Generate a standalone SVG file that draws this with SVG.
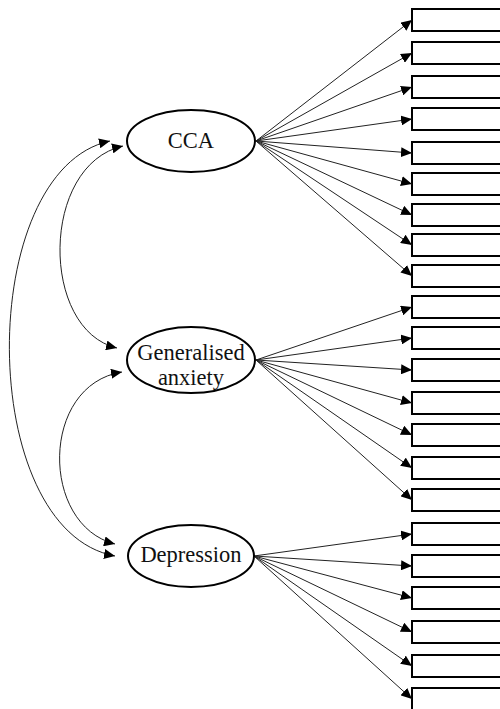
<svg xmlns="http://www.w3.org/2000/svg" width="500" height="709" viewBox="0 0 500 709">
<style>
.box{fill:#fff;stroke:#000;stroke-width:2}
.lat{fill:#fff;stroke:#000;stroke-width:2}
.lbl{font-family:"Liberation Serif","Times New Roman",serif;font-size:22.5px;fill:#111;text-anchor:middle}
.ar{fill:none;stroke:#222;stroke-width:1;marker-end:url(#ah)}
.cv{fill:none;stroke:#222;stroke-width:1;marker-start:url(#ah);marker-end:url(#ah)}
</style>
<defs>
<marker id="ah" markerUnits="userSpaceOnUse" markerWidth="12" markerHeight="10" refX="11" refY="5" orient="auto-start-reverse" viewBox="0 0 12 10">
<path d="M0,0 L11,5 L0,10 Z" fill="#000"/>
</marker>
</defs>
<g id="indicators">
<rect id="i1" class="box" x="412" y="9" width="100" height="22"/>
<rect id="i2" class="box" x="412" y="42" width="100" height="22"/>
<rect id="i3" class="box" x="412" y="76" width="100" height="22"/>
<rect id="i4" class="box" x="412" y="108" width="100" height="22"/>
<rect id="i5" class="box" x="412" y="142" width="100" height="22"/>
<rect id="i6" class="box" x="412" y="173" width="100" height="22"/>
<rect id="i7" class="box" x="412" y="204" width="100" height="22"/>
<rect id="i8" class="box" x="412" y="234" width="100" height="22"/>
<rect id="i9" class="box" x="412" y="265" width="100" height="22"/>
<rect id="i10" class="box" x="412" y="296" width="100" height="22"/>
<rect id="i11" class="box" x="412" y="327" width="100" height="22"/>
<rect id="i12" class="box" x="412" y="359" width="100" height="22"/>
<rect id="i13" class="box" x="412" y="392" width="100" height="22"/>
<rect id="i14" class="box" x="412" y="424" width="100" height="22"/>
<rect id="i15" class="box" x="412" y="457" width="100" height="22"/>
<rect id="i16" class="box" x="412" y="489" width="100" height="22"/>
<rect id="i17" class="box" x="412" y="523" width="100" height="22"/>
<rect id="i18" class="box" x="412" y="555" width="100" height="22"/>
<rect id="i19" class="box" x="412" y="587" width="100" height="22"/>
<rect id="i20" class="box" x="412" y="621" width="100" height="22"/>
<rect id="i21" class="box" x="412" y="655" width="100" height="22"/>
<rect id="i22" class="box" x="412" y="688" width="100" height="22"/>
</g>
<g id="connectors">
<path class="ar" d="M256,141 L412,20"/>
<path class="ar" d="M256,141 L412,53"/>
<path class="ar" d="M256,141 L412,87"/>
<path class="ar" d="M256,141 L412,119"/>
<path class="ar" d="M256,141 L412,153"/>
<path class="ar" d="M256,141 L412,184"/>
<path class="ar" d="M256,141 L412,215"/>
<path class="ar" d="M256,141 L412,245"/>
<path class="ar" d="M256,141 L412,276"/>
<path class="ar" d="M256,360 L412,307"/>
<path class="ar" d="M256,360 L412,338"/>
<path class="ar" d="M256,360 L412,370"/>
<path class="ar" d="M256,360 L412,403"/>
<path class="ar" d="M256,360 L412,435"/>
<path class="ar" d="M256,360 L412,468"/>
<path class="ar" d="M256,360 L412,500"/>
<path class="ar" d="M254,556 L412,534"/>
<path class="ar" d="M254,556 L412,566"/>
<path class="ar" d="M254,556 L412,598"/>
<path class="ar" d="M254,556 L412,632"/>
<path class="ar" d="M254,556 L412,666"/>
<path class="ar" d="M254,556 L412,699"/>
<path class="cv" d="M110,141 C-25,170 -25,530 115,556"/>
<path class="cv" d="M123,146 C40,165 40,330 117,348"/>
<path class="cv" d="M122,372 C40,385 40,525 115,544"/>
</g>
<g id="cca">
<ellipse class="lat" cx="191" cy="141" rx="64" ry="31"/>
<text class="lbl" x="191" y="148">CCA</text>
</g>
<g id="generalised-anxiety">
<ellipse class="lat" cx="191" cy="360" rx="64" ry="33"/>
<text class="lbl" x="191" y="360">Generalised</text>
<text class="lbl" x="191" y="385">anxiety</text>
</g>
<g id="depression">
<ellipse class="lat" cx="191" cy="556" rx="63" ry="31"/>
<text class="lbl" x="191" y="562">Depression</text>
</g>
</svg>
